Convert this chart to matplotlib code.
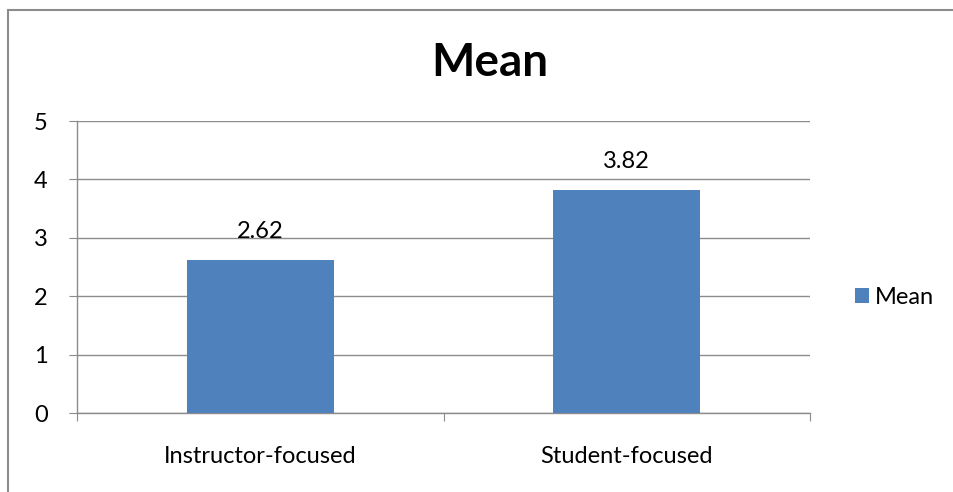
import matplotlib
matplotlib.use("Agg")
import matplotlib.pyplot as plt
from matplotlib.patches import Rectangle

categories = ["Instructor-focused", "Student-focused"]
values = [2.62, 3.82]
series_name = "Mean"
title = "Mean"
yticks = [0, 1, 2, 3, 4, 5]

W, H = 954, 492
fig = plt.figure(figsize=(W / 100, H / 100), dpi=100)
plt.rcParams['font.family'] = ['Lato', 'DejaVu Sans']

# axes position in pixels: left 77, right 810, top 121, bottom 413
ax = fig.add_axes([77 / W, 1 - 413 / H, (810 - 77) / W, (413 - 121) / H])

bar_color = "#4F81BD"
grid_color = "#8C8C8C"
fs = 17
x = list(range(len(categories)))
bars = ax.bar(x, values, width=0.4, color=bar_color, label=series_name, zorder=3)

ax.set_xlim(-0.5, len(categories) - 0.5)
ax.set_ylim(0, 5)
ax.set_yticks(yticks)
ax.set_yticklabels([str(t) for t in yticks], fontsize=fs)
ax.yaxis.grid(True, color=grid_color, linewidth=1.0, zorder=0)
ax.set_axisbelow(True)

# x ticks at category boundaries, labels at centers
ax.set_xticks([i - 0.5 for i in range(len(categories) + 1)])
ax.set_xticklabels([])
ax.set_xticks(x, minor=True)
ax.set_xticklabels(categories, minor=True, fontsize=fs)
ax.tick_params(axis='x', which='minor', length=0, pad=24)
ax.tick_params(axis='x', which='major', length=6, color=grid_color, direction='out')
ax.tick_params(axis='y', length=6, color=grid_color, direction='out', pad=15)

for s in ["top", "right"]:
    ax.spines[s].set_visible(False)
for s in ["left", "bottom"]:
    ax.spines[s].set_color(grid_color)
    ax.spines[s].set_linewidth(1.0)

for xi, v in zip(x, values):
    ax.annotate(f"{v:.2f}", (xi, v), xytext=(0, 13), textcoords="offset points",
                ha="center", va="bottom", fontsize=fs)

fig.text(490 / W, 1 - 63 / H, title, ha="center", va="center",
         fontsize=33, fontweight="bold")

leg = fig.legend(handles=[bars], labels=[series_name], loc="center left",
                 bbox_to_anchor=(843 / W, 1 - 297 / H), frameon=False,
                 fontsize=fs, handlelength=0.6, handleheight=0.6,
                 handletextpad=0.25, borderpad=0)

# outer chart border (extends beyond the right/bottom edges)
fig.patches.append(Rectangle((8 / W, -0.1), 1.2, 1 - 10 / H + 0.1,
                             transform=fig.transFigure, fill=False,
                             edgecolor="#8C8C8C", linewidth=1.5))

fig.savefig("out.png", dpi=100)
